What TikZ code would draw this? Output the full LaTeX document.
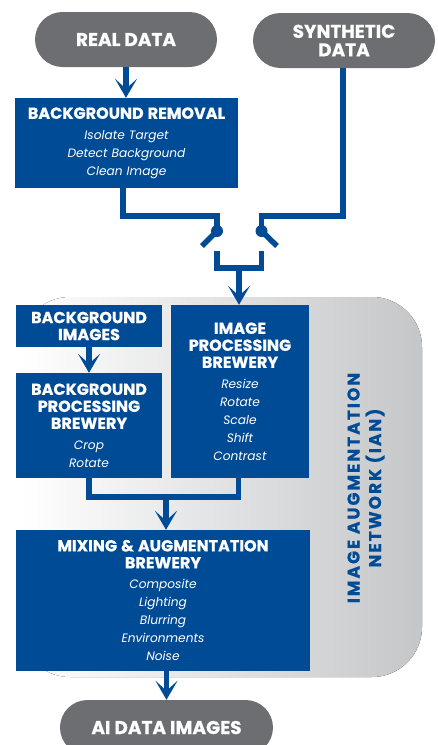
\documentclass[tikz,border=0pt]{standalone}
\usepackage{fontspec}
\setmainfont{Poppins}[BoldFeatures={FakeBold=0.6}]
\newfontfamily\ianfont{Poppins}[LetterSpace=12,BoldFeatures={FakeBold=0.6}]
\usepackage{tikz}
\usetikzlibrary{arrows.meta}
\definecolor{ianblue}{RGB}{0,75,150}
\definecolor{pillgray}{RGB}{109,110,113}
\definecolor{panelgray}{RGB}{197,198,200}
\newcommand{\boxhead}[1]{{\upshape\bfseries\fontsize{16}{17}\selectfont #1\par}\vspace{2.5pt}}

\begin{document}
\begin{tikzpicture}[x=1pt,y=-1pt,
    pill/.style = {
        fill=pillgray,
        text=white,
        rounded corners=27.5pt,
        minimum width=#1,
        minimum height=55pt,
        align=center,
        font=\bfseries\fontsize{18.5}{18.5}\selectfont
    },
    box/.style 2 args = {
        fill=ianblue,
        text=white,
        align=center,
        inner sep=0pt,
        text width=#1,
        minimum height=#2,
        font=\itshape\fontsize{12.2}{18}\selectfont
    },
    wire/.style = {
        ianblue,
        line width=5.5pt
    },
    flow/.style = {wire, -{Stealth[length=19pt,width=22pt,inset=10pt]}},
    dot/.style = {fill=ianblue}
]
    \useasboundingbox (0,0) rectangle (438,745);

    % Grey panel of the augmentation network
    \fill[left color=white, right color=panelgray, rounded corners=50pt] (20,297) rectangle (422,677);
    \node[rotate=90, text=ianblue, align=center, font=\ianfont\bfseries\fontsize{17}{21.5}\selectfont] (ian) at (366,488) {IMAGE AUGMENTATION\\NETWORK (IAN)};

    % Sources and result
    \node[pill=182pt] (realdata) at (126,39.5) {REAL DATA};
    \node[pill=182pt] (synth) at (344,40.5) {SYNTHETIC\\DATA};
    \node[pill=213pt] (aidata) at (166.5,727.5) {AI DATA IMAGES};

    % Processing boxes
    \node[box={223pt}{90pt}] (bgremoval) at (126.5,143) {\boxhead{BACKGROUND REMOVAL}Isolate Target\\Detect Background\\Clean Image};
    \node[box={146pt}{42pt}] (bgimages) at (89,326) {{\upshape\bfseries\fontsize{16}{17}\selectfont BACKGROUND\\IMAGES\par}};
    \node[box={146pt}{105pt}] (bgproc) at (89,425.5) {\boxhead{BACKGROUND\\PROCESSING\\BREWERY}Crop\\Rotate};
    \node[box={138pt}{173pt}] (imgproc) at (240,391.5) {\boxhead{IMAGE\\PROCESSING\\BREWERY}Resize\\Rotate\\Scale\\Shift\\Contrast};
    \node[box={294pt}{141pt}] (mixing) at (163,600.5) {\boxhead{MIXING \& AUGMENTATION\\BREWERY}Composite\\Lighting\\Blurring\\Environments\\Noise};

    % Switch points
    \coordinate (pivl) at (217,231);
    \coordinate (pivr) at (261.5,231);
    \coordinate (bladel) at (202,246);
    \coordinate (blader) at (277,246);
    \coordinate (contl) at (217,251);
    \coordinate (contr) at (261.5,251);
    \coordinate (merge) at (239,268);
    \coordinate (join) at (166,497);

    % Connectors
    \draw[flow] (realdata.south) -- (realdata.south |- bgremoval.north);
    \draw[wire] ([xshift=-3.5pt]bgremoval.south) |- (217,216) -- (pivl);
    \draw[wire] ([xshift=-1pt]synth.south) |- (261.5,216) -- (pivr);
    \fill[dot] (pivl) circle (6pt);
    \fill[dot] (pivr) circle (6pt);
    \draw[wire] (pivl) -- (bladel);
    \draw[wire] (pivr) -- (blader);
    \draw[wire] (contl) |- (merge) -| (contr);
    \draw[flow] (merge) -- (merge |- imgproc.north);
    \draw[flow] (bgimages) -- (bgproc);
    \draw[wire] (bgproc.south) |- (join) -| ([xshift=-1.5pt]imgproc.south);
    \draw[flow] (join) -- (join |- mixing.north);
    \draw[flow] (mixing.south -| aidata.north) -- (aidata.north);
\end{tikzpicture}
\end{document}
